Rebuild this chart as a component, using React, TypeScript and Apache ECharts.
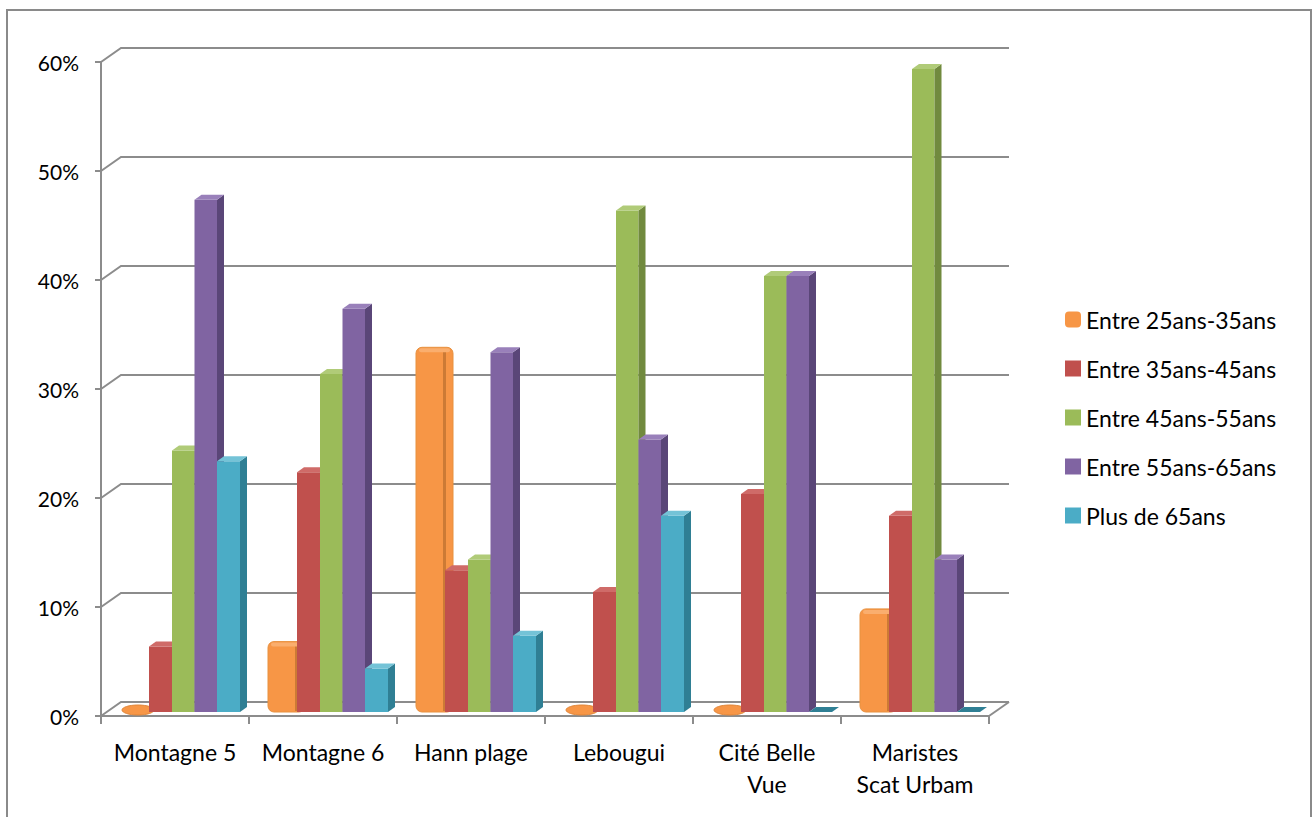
import React, { useEffect, useRef } from "react";
import * as echarts from "echarts";

const categories = ["Montagne 5", "Montagne 6", "Hann plage", "Lebougui", "Cité Belle\nVue", "Maristes\nScat Urbam"];
const seriesNames = ["Entre 25ans-35ans", "Entre 35ans-45ans", "Entre 45ans-55ans", "Entre 55ans-65ans", "Plus de 65ans"];
const age25to35 = [0, 6, 33, 0, 0, 9];
const age35to45 = [6, 22, 13, 11, 20, 18];
const age45to55 = [24, 31, 14, 46, 40, 59];
const age55to65 = [47, 37, 33, 25, 40, 14];
const age65plus = [23, 4, 7, 18, 0, 0];
const yTicks = [0, 10, 20, 30, 40, 50, 60];

const seriesValues = [age25to35, age35to45, age45to55, age55to65, age65plus];
const frontColors = ["#F79646", "#C0504D", "#9BBB59", "#8064A2", "#4BACC6"];
const sideColors = ["#B96E2E", "#8A3735", "#718A3E", "#5A4678", "#2F7F94"];
const topColors = ["#FAAE6E", "#CF6B68", "#B0CB78", "#9980BA", "#74C3D7"];
// layout (fractions of the category band): left offset and width of each bar's front face
const barOffsets = [19 / 148, 48 / 148, 71 / 148, 93.5 / 148, 116 / 148];
const barWidths = [30 / 148, 23 / 148, 22.5 / 148, 22.5 / 148, 23 / 148];

const DX = 20, DY = 14; // wall depth
const BX = 7, BY = 5; // bar depth
const SHIFT = 4; // bar front face lift

const FONT = "Lato, 'Open Sans', sans-serif";

export default function App() {
  const ref = useRef<HTMLDivElement>(null);
  useEffect(() => {
    if (!ref.current) return;
    const chart = echarts.init(ref.current, null, { renderer: "svg" });
    const gridColor = "#8C8C8C";

    const wallSeries: any = {
      type: "custom",
      name: "walls",
      silent: true,
      z: 1,
      data: yTicks.map((v) => [0, v]),
      renderItem: (params: any, api: any) => {
        const cs = params.coordSys;
        const y = api.coord([0, api.value(1)])[1];
        const x0 = cs.x;
        const children: any[] = [
          {
            type: "polyline",
            shape: { points: [[x0, y], [x0 + DX, y - DY], [x0 + cs.width + DX, y - DY]] },
            style: { stroke: gridColor, lineWidth: 2, fill: "none" },
          },
        ];
        if (api.value(1) === 0) {
          children.push({
            type: "line",
            shape: { x1: x0 + cs.width, y1: y, x2: x0 + cs.width + DX, y2: y - DY },
            style: { stroke: gridColor, lineWidth: 2 },
          });
        }
        return { type: "group", children };
      },
    };

    const barSeries = seriesValues.map((vals, si) => ({
      type: "custom",
      name: seriesNames[si],
      z: 3,
      itemStyle: { color: frontColors[si] },
      data: vals.map((v, i) => [i, v]),
      renderItem: (params: any, api: any) => {
        const idx = api.value(0);
        const v = api.value(1);
        const base = api.coord([idx, 0]);
        const top = api.coord([idx, v]);
        const bw = api.size([1, 0])[0];
        const catStart = base[0] - bw / 2;
        const x = catStart + barOffsets[si] * bw;
        const w = barWidths[si] * bw;
        const yb = base[1] - SHIFT;
        const yt = top[1] - SHIFT;
        const children: any[] = [];
        if (v === 0) {
          if (si === 0) {
            children.push({
              type: "ellipse",
              shape: { cx: x + w / 2 + 3, cy: yb - 2, rx: w / 2 + 1, ry: 5 },
              style: { fill: frontColors[si], stroke: "#E0863A", lineWidth: 1 },
            });
          } else {
            children.push({
              type: "polygon",
              shape: { points: [[x, yb], [x + BX, yb - BY], [x + w + BX, yb - BY], [x + w, yb]] },
              style: { fill: sideColors[si] },
            });
          }
          return { type: "group", children };
        }
        if (si === 0) {
          children.push({
            type: "rect",
            shape: { x: x, y: yt - BY, width: w + BX, height: yb - yt + BY, r: 6 },
            style: { fill: frontColors[si], stroke: "#E8913F", lineWidth: 1 },
          });
          children.push({
            type: "rect",
            shape: { x: x + w - 3, y: yt - 1, width: 3, height: yb - yt },
            style: { fill: sideColors[si], opacity: 0.7 },
          });
          children.push({
            type: "rect",
            shape: { x: x + 3, y: yt - BY + 1, width: w + BX - 6, height: 4, r: 2 },
            style: { fill: topColors[si] },
          });
          return { type: "group", children };
        }
        children.push({
          type: "rect",
          shape: { x: x, y: yt, width: w, height: yb - yt },
          style: { fill: frontColors[si] },
        });
        children.push({
          type: "polygon",
          shape: { points: [[x + w, yt], [x + w + BX, yt - BY], [x + w + BX, yb - BY], [x + w, yb]] },
          style: { fill: sideColors[si] },
        });
        children.push({
          type: "polygon",
          shape: { points: [[x, yt], [x + BX, yt - BY], [x + w + BX, yt - BY], [x + w, yt]] },
          style: { fill: topColors[si] },
        });
        return { type: "group", children };
      },
    }));

    chart.setOption({
      animation: false,
      backgroundColor: "#ffffff",
      textStyle: { fontFamily: FONT },
      graphic: [
        {
          type: "rect",
          shape: { x: 7, y: 10, width: 1304, height: 830 },
          style: { fill: "none", stroke: "#8A8A8A", lineWidth: 2 },
          silent: true,
        },
      ],
      grid: { left: 101, top: 62, width: 888, height: 654 },
      legend: {
        orient: "vertical",
        left: 1060,
        top: 303,
        itemWidth: 16,
        itemHeight: 16,
        itemGap: 26,
        textStyle: { fontSize: 23, color: "#000", fontFamily: FONT, lineHeight: 22 },
        data: seriesNames.map((n, i) => ({ name: n, icon: i === 0 ? "roundRect" : "rect" })),
      },
      xAxis: {
        type: "category",
        data: categories,
        axisLine: { show: true, lineStyle: { color: gridColor, width: 2 } },
        axisTick: { show: true, length: 8, lineStyle: { color: gridColor, width: 2 } },
        axisLabel: { color: "#000", fontSize: 23, lineHeight: 32, margin: 20, fontFamily: FONT, interval: 0 },
        splitLine: { show: false },
      },
      yAxis: {
        type: "value",
        min: 0,
        max: 60,
        interval: 10,
        axisLine: { show: true, lineStyle: { color: gridColor, width: 2 } },
        axisTick: { show: true, length: 6, lineStyle: { color: gridColor, width: 2 } },
        axisLabel: { color: "#000", fontSize: 21, margin: 22, formatter: "{value}%", fontFamily: FONT },
        splitLine: { show: false },
      },
      series: [wallSeries, ...barSeries],
    });
    return () => chart.dispose();
  }, []);
  return (
    <div
      ref={ref}
      style={{ position: "absolute", left: 0, top: 0, width: 1314, height: 817, background: "#fff" }}
    />
  );
}
